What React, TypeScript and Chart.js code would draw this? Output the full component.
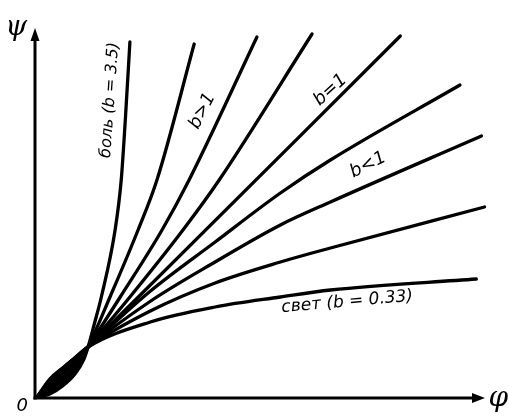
import React, { useEffect, useRef } from "react";
import { Chart, registerables } from "chart.js";

Chart.register(...registerables);

// φ (stimulus) and ψ (sensation) values; the curves all cross at (1, 1)
const painPhi = [0, 0.25, 0.5, 0.75, 0.92, 1, 1.12, 1.26, 1.53, 1.65, 1.73, 1.82];
const painPsi = [0, 0.06, 0.22, 0.47, 0.76, 1, 1.45, 2.0, 3.34, 4.34, 5.54, 7.1];

const steepAPhi = [0, 0.25, 0.5, 0.75, 1, 1.43, 1.98, 2.35, 3.08];
const steepAPsi = [0, 0.11, 0.29, 0.55, 1, 2.0, 3.34, 4.34, 7.06];

const steepBPhi = [0, 0.25, 0.5, 0.75, 1, 1.63, 2.45, 2.98, 4.31];
const steepBPsi = [0, 0.16, 0.36, 0.62, 1, 2.0, 3.34, 4.34, 7.2];

const steepCPhi = [0, 0.25, 0.5, 0.75, 1, 1.82, 2.86, 3.57, 5.39];
const steepCPsi = [0, 0.2, 0.43, 0.69, 1, 2.0, 3.34, 4.34, 7.26];

const linearPhi = [0, 1, 7.12];
const linearPsi = [0, 1, 7.22];

const flatAPhi = [0, 0.25, 0.5, 0.75, 1, 2.2, 3.49, 4.77, 5.75, 8.29];
const flatAPsi = [0, 0.28, 0.53, 0.77, 1, 2.1, 3.1, 4.08, 4.74, 6.24];

const flatBPhi = [0, 0.25, 0.5, 0.75, 1, 2.2, 3.49, 4.77, 5.75, 8.71];
const flatBPsi = [0, 0.31, 0.55, 0.78, 1, 1.9, 2.7, 3.44, 3.9, 5.22];

const flatCPhi = [0, 0.25, 0.5, 0.75, 1, 2.22, 3.49, 4.77, 5.75, 8.77];
const flatCPsi = [0, 0.34, 0.57, 0.79, 1, 1.72, 2.28, 2.7, 2.98, 3.8];

const lightPhi = [0, 0.25, 0.5, 0.75, 1, 2.22, 3.49, 4.77, 5.75, 8.61];
const lightPsi = [0, 0.36, 0.58, 0.79, 1, 1.5, 1.8, 2.0, 2.14, 2.36];

const curvePhi = [painPhi, steepAPhi, steepBPhi, steepCPhi, linearPhi, flatAPhi, flatBPhi, flatCPhi, lightPhi];
const curvePsi = [painPsi, steepAPsi, steepBPsi, steepCPsi, linearPsi, flatAPsi, flatBPsi, flatCPsi, lightPsi];

// axis extents
const phiMin = -0.04;
const phiMax = 8.78;
const psiMin = -0.02;
const psiMax = 7.38;

// curve annotations (anchor in data units)
const noteTexts = ["боль (b = 3.5)", "b>1", "b=1", "b<1", "свет (b = 0.33)"];
const notePhi = [1.43, 3.24, 5.75, 6.49, 6.08];
const notePsi = [5.94, 5.72, 6.14, 4.64, 1.9];
const noteAngle = [-86, -63, -42, -27, -5];
const noteSize = [16, 18, 18, 18, 17];

// axis names
const axisTexts = ["ψ", "φ", "0"];
const axisPhi = [-0.41, 9.04, -0.29];
const axisPsi = [7.38, -0.04, -0.18];
const axisSize = [28, 28, 18];

const decorPlugin = {
  id: "decor",
  afterDatasetsDraw(chart: any) {
    const { ctx } = chart;
    const xs = chart.scales.x;
    const ys = chart.scales.y;
    const ox = xs.getPixelForValue(phiMin);
    const oy = ys.getPixelForValue(psiMin);
    const ex = xs.getPixelForValue(phiMax);
    const ey = ys.getPixelForValue(psiMax);
    ctx.save();
    ctx.strokeStyle = "#000";
    ctx.fillStyle = "#000";
    ctx.lineWidth = 3;
    ctx.lineCap = "square";
    ctx.beginPath();
    ctx.moveTo(ox, oy);
    ctx.lineTo(ex - 10, oy);
    ctx.stroke();
    ctx.beginPath();
    ctx.moveTo(ox, oy);
    ctx.lineTo(ox, ey + 10);
    ctx.stroke();
    // arrowheads
    ctx.beginPath();
    ctx.moveTo(ex, oy);
    ctx.lineTo(ex - 13, oy - 5);
    ctx.lineTo(ex - 13, oy + 5);
    ctx.closePath();
    ctx.fill();
    ctx.beginPath();
    ctx.moveTo(ox, ey);
    ctx.lineTo(ox - 4.5, ey + 13);
    ctx.lineTo(ox + 4.5, ey + 13);
    ctx.closePath();
    ctx.fill();

    // curve notes
    ctx.textAlign = "center";
    ctx.textBaseline = "middle";
    noteTexts.forEach((t, i) => {
      const px = xs.getPixelForValue(notePhi[i]);
      const py = ys.getPixelForValue(notePsi[i]);
      ctx.save();
      ctx.font = `italic ${noteSize[i]}px "DejaVu Sans"`;
      ctx.translate(px, py);
      ctx.rotate((noteAngle[i] * Math.PI) / 180);
      ctx.fillText(t, 0, 0);
      ctx.restore();
    });

    // axis names
    axisTexts.forEach((t, i) => {
      const px = xs.getPixelForValue(axisPhi[i]);
      const py = ys.getPixelForValue(axisPsi[i]);
      ctx.font = i < 2 ? `italic ${axisSize[i]}px "DejaVu Serif"` : `italic ${axisSize[i]}px "DejaVu Sans"`;
      ctx.fillText(t, px, py);
    });
    ctx.restore();
  },
};

export default function App() {
  const ref = useRef<HTMLCanvasElement | null>(null);

  useEffect(() => {
    if (!ref.current) return;
    const datasets = curvePhi.map((xs, i) => ({
      label: "curve " + (i + 1),
      data: xs.map((x, j) => ({ x, y: curvePsi[i][j] })),
      borderColor: "#000",
      borderWidth: 3.3,
      pointRadius: 0,
      fill: false,
      cubicInterpolationMode: "monotone" as const,
      borderCapStyle: "round" as const,
      borderJoinStyle: "round" as const,
      clip: false as const,
    }));
    const chart = new Chart(ref.current, {
      type: "line",
      data: { datasets },
      options: {
        animation: false,
        responsive: false,
        devicePixelRatio: 1,
        layout: { padding: { left: 35, right: 24, top: 28, bottom: 19 } },
        plugins: { legend: { display: false }, tooltip: { enabled: false } },
        scales: {
          x: { type: "linear", min: phiMin, max: phiMax, display: false },
          y: { type: "linear", min: psiMin, max: psiMax, display: false },
        },
      },
      plugins: [decorPlugin],
    });
    return () => chart.destroy();
  }, []);

  return (
    <div style={{ position: "absolute", left: 0, top: 0, width: 509, height: 417, background: "#fff" }}>
      <canvas ref={ref} width={509} height={417} style={{ display: "block" }} />
    </div>
  );
}
